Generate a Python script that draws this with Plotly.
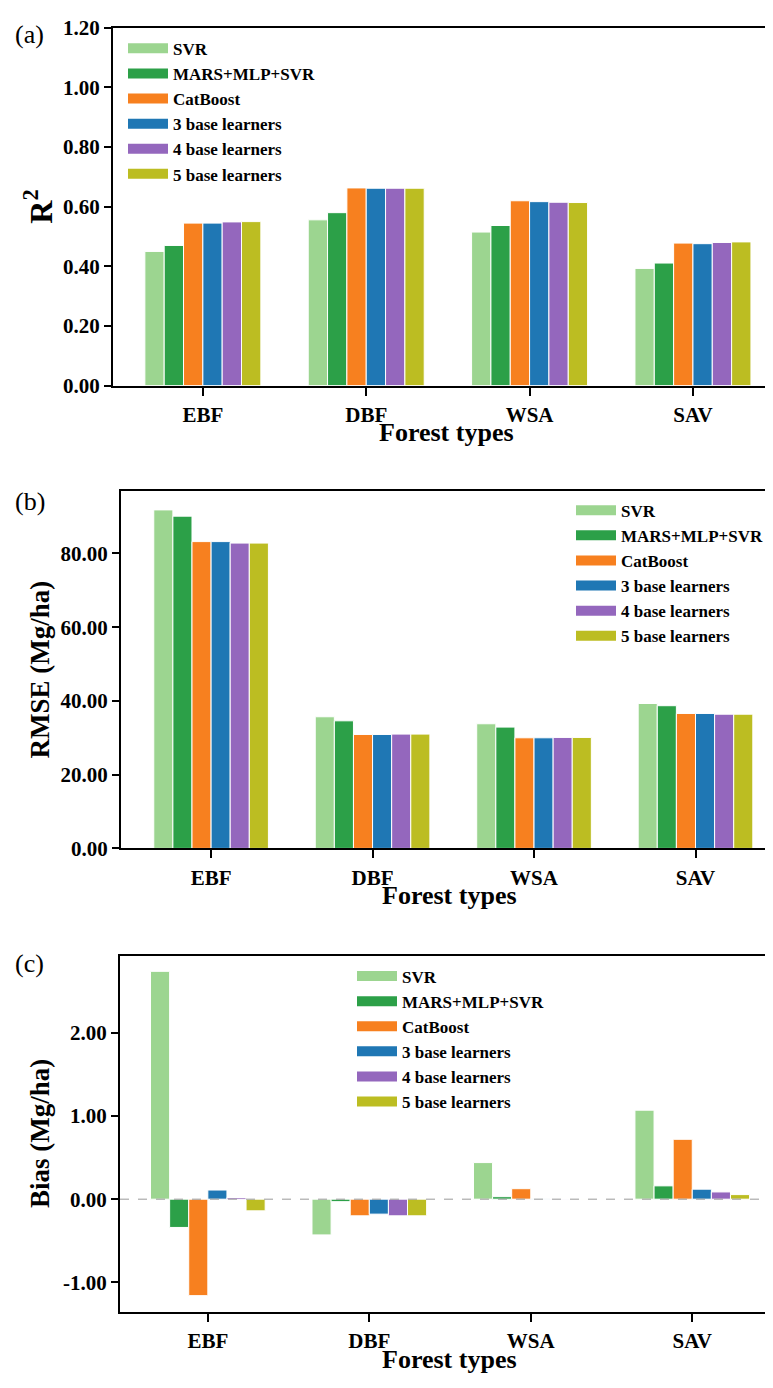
import plotly.graph_objects as go

categories = ["EBF", "DBF", "WSA", "SAV"]
models = ["SVR", "MARS+MLP+SVR", "CatBoost", "3 base learners", "4 base learners", "5 base learners"]
colors = ["#9cd590", "#2ca048", "#f7801f", "#1f77b4", "#9467bd", "#bcbd22"]

# R2 values per model (EBF, DBF, WSA, SAV)
r2_svr = [0.450, 0.556, 0.515, 0.393]
r2_mars = [0.470, 0.580, 0.537, 0.411]
r2_cat = [0.545, 0.663, 0.620, 0.478]
r2_b3 = [0.545, 0.662, 0.617, 0.476]
r2_b4 = [0.549, 0.662, 0.615, 0.480]
r2_b5 = [0.550, 0.662, 0.614, 0.482]

# RMSE values (Mg/ha)
rmse_svr = [91.8, 35.7, 33.8, 39.3]
rmse_mars = [90.1, 34.6, 32.9, 38.7]
rmse_cat = [83.2, 30.9, 30.0, 36.6]
rmse_b3 = [83.2, 30.9, 30.0, 36.6]
rmse_b4 = [82.8, 31.0, 30.1, 36.4]
rmse_b5 = [82.8, 31.0, 30.1, 36.4]

# Bias values (Mg/ha)
bias_svr = [2.74, -0.43, 0.44, 1.07]
bias_mars = [-0.34, -0.03, 0.03, 0.16]
bias_cat = [-1.16, -0.20, 0.126, 0.72]
bias_b3 = [0.11, -0.18, 0.003, 0.12]
bias_b4 = [0.02, -0.20, 0.002, 0.087]
bias_b5 = [-0.14, -0.20, 0.001, 0.055]

r2_ticks = [0.0, 0.2, 0.4, 0.6, 0.8, 1.0, 1.2]
r2_ticktext = ["0.00", "0.20", "0.40", "0.60", "0.80", "1.00", "1.20"]
rmse_ticks = [0, 20, 40, 60, 80]
rmse_ticktext = ["0.00", "20.00", "40.00", "60.00", "80.00"]
bias_ticks = [-1, 0, 1, 2]
bias_ticktext = ["-1.00", "0.00", "1.00", "2.00"]

panels = [
    [r2_svr, r2_mars, r2_cat, r2_b3, r2_b4, r2_b5],
    [rmse_svr, rmse_mars, rmse_cat, rmse_b3, rmse_b4, rmse_b5],
    [bias_svr, bias_mars, bias_cat, bias_b3, bias_b4, bias_b5],
]

W, H = 773, 1388
OFF = 8  # default page body margin: figure pixel = page pixel - OFF
FONT = "Liberation Serif"

def fx(px):
    return (px - OFF) / W

def fy(py):
    return 1 - (py - OFF) / H

fig = go.Figure()
axis_names = ["", "2", "3"]
legend_names = ["legend", "legend2", "legend3"]
for p, data in enumerate(panels):
    for i, vals in enumerate(data):
        grp = f"p{p}_{i}"
        fig.add_trace(go.Bar(
            x=categories, y=vals, name=models[i],
            marker=dict(color=colors[i], line=dict(color="white", width=1)),
            xaxis="x" + axis_names[p], yaxis="y" + axis_names[p],
            legendgroup=grp, showlegend=False,
        ))
        # legend swatch (wide rectangle like the reference)
        fig.add_trace(go.Scatter(
            x=[None], y=[None], mode="lines", name=models[i],
            line=dict(color=colors[i], width=11),
            xaxis="x" + axis_names[p], yaxis="y" + axis_names[p],
            legend=legend_names[p], legendgroup=grp, showlegend=True,
        ))

# page-pixel boxes: (left, top, bottom)
boxes = [(113, 16, 380), (121, 487, 851), (120, 960, 1323)]
yranges = [[0, 1.2], [0, 97], [-1.36, 2.93]]
ytv = [r2_ticks, rmse_ticks, bias_ticks]
ytt = [r2_ticktext, rmse_ticktext, bias_ticktext]
ytitles = ["R<sup>2</sup>", "RMSE (Mg/ha)", "Bias (Mg/ha)"]
ytitle_sizes = [32, 27, 27]
ytitle_x = [38, 40, 40]
xranges = [[-0.55, 3.49], [-0.558, 3.48], [-0.544, 3.50]]

layout = dict(
    width=W, height=H, margin=dict(l=0, r=0, t=0, b=0),
    plot_bgcolor="white", paper_bgcolor="white",
    barmode="group", bargap=0.29, bargroupgap=0,
    font=dict(family=FONT, color="black"),
    showlegend=True,
)
for p in range(3):
    left, top, bottom = boxes[p]
    xn = "xaxis" + axis_names[p]
    yn = "yaxis" + axis_names[p]
    layout[xn] = dict(
        domain=[fx(left), fx(773)], anchor="y" + axis_names[p],
        range=xranges[p], showline=True, linewidth=2, linecolor="black",
        mirror=True, ticks="outside", ticklen=8, tickwidth=1.5, tickcolor="black",
        ticklabelstandoff=1, ticklabeloverflow="allow",
        tickfont=dict(size=21, family=FONT, weight="bold"),
        showgrid=False, zeroline=False,
    )
    layout[yn] = dict(
        domain=[fy(bottom), fy(top)], anchor="x" + axis_names[p],
        range=yranges[p], tickvals=ytv[p], ticktext=ytt[p],
        showline=True, linewidth=2, linecolor="black", mirror=False,
        ticks="outside", ticklen=7, tickwidth=2, tickcolor="black",
        ticklabeloverflow="allow",
        tickfont=dict(size=21, family=FONT, weight="bold"),
        showgrid=False, zeroline=False,
    )

# legend boxes (page pixel of top-left)
legend_pos = [(123, 19), (571, 489), (352, 963)]
for p in range(3):
    lx, ly = legend_pos[p]
    layout[legend_names[p]] = dict(
        x=fx(lx), y=fy(ly), xanchor="left", yanchor="top",
        bgcolor="rgba(0,0,0,0)", tracegroupgap=0, itemwidth=40,
        font=dict(size=17, family=FONT, weight="bold"),
    )

fig.update_layout(**layout)

# zero reference line in bias panel
fig.add_shape(type="line", xref="x3 domain", yref="y3", x0=0, x1=1, y0=0, y1=0,
              line=dict(color="#999999", width=1, dash="dash"), layer="above")

# axis titles
for p in range(3):
    left, top, bottom = boxes[p]
    fig.add_annotation(text=ytitles[p], xref="paper", yref="paper",
                       x=fx(ytitle_x[p]), y=fy((top + bottom) / 2), textangle=-90,
                       xanchor="center", yanchor="middle", showarrow=False,
                       font=dict(size=ytitle_sizes[p], family=FONT, weight="bold"))
    fig.add_annotation(text="Forest types", xref="paper", yref="paper",
                       x=fx((left + 773) / 2 + 3), y=fy(bottom + 48),
                       xanchor="center", yanchor="middle", showarrow=False,
                       font=dict(size=26, family=FONT, weight="bold"))

for label, px, py in [("(a)", 13, 23), ("(b)", 13, 498), ("(c)", 13, 968)]:
    fig.add_annotation(text=label, xref="paper", yref="paper", x=fx(px), y=fy(py),
                       xanchor="left", yanchor="middle", showarrow=False,
                       font=dict(size=26, family=FONT, color="black"))

fig.write_html("out.html")
